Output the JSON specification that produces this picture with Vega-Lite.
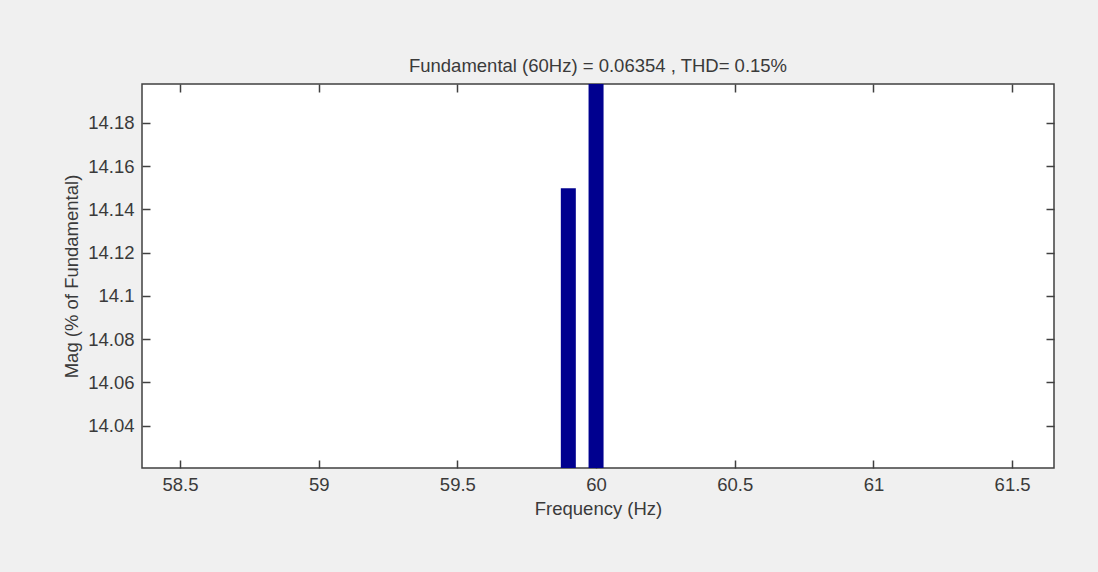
{
  "$schema": "https://vega.github.io/schema/vega-lite/v6.json",
  "autosize": "none",
  "width": 912,
  "height": 384,
  "padding": {"left": 142, "top": 84, "right": 44, "bottom": 104},
  "background": "#f0f0f0",
  "config": {
    "view": {"stroke": "#404040", "strokeWidth": 1.5, "fill": "white"},
    "font": "Liberation Sans",
    "axis": {"labelFont": "Liberation Sans", "titleFont": "Liberation Sans", "labelColor": "#3a3a3a", "titleColor": "#3a3a3a", "labelFontSize": 18.5, "titleFontSize": 18.5, "titleFontWeight": "normal", "grid": false, "domain": false, "tickColor": "#404040", "tickSize": -8, "tickWidth": 1.5}
  },
  "title": {"text": "Fundamental (60Hz) = 0.06354 , THD= 0.15%", "font": "Liberation Sans", "fontSize": 18.5, "fontWeight": "normal", "color": "#3a3a3a", "offset": 1},
  "data": {"values": [
    {"freq": 59.9, "mag": 14.1497},
    {"freq": 60.0, "mag": 14.2}
  ]},
  "resolve": {"axis": {"x": "independent", "y": "independent"}},
  "layer": [
    {
      "mark": {"type": "bar", "width": 15, "color": "#00008f", "clip": true},
      "encoding": {
        "x": {"field": "freq", "type": "quantitative", "scale": {"domain": [58.363, 61.651], "nice": false, "zero": false, "padding": 0},
          "axis": {"title": "Frequency (Hz)", "format": "~g", "values": [58.5, 59, 59.5, 60, 60.5, 61, 61.5], "labelPadding": 15, "titlePadding": 6, "labelFlush": false}},
        "y": {"field": "mag", "type": "quantitative", "scale": {"domain": [14.0205, 14.1979], "nice": false, "zero": false, "padding": 0},
          "axis": {"title": "Mag (% of Fundamental)", "format": "~g", "values": [14.04, 14.06, 14.08, 14.1, 14.12, 14.14, 14.16, 14.18], "labelPadding": 16, "titlePadding": 6, "labelFlush": false}}
      }
    },
    {
      "mark": {"type": "point", "opacity": 0},
      "encoding": {
        "x": {"field": "freq", "type": "quantitative",
          "axis": {"orient": "top", "labels": false, "title": null, "values": [58.5, 59, 59.5, 60, 60.5, 61, 61.5]}},
        "y": {"field": "mag", "type": "quantitative",
          "axis": {"orient": "right", "labels": false, "title": null, "values": [14.04, 14.06, 14.08, 14.1, 14.12, 14.14, 14.16, 14.18]}}
      }
    }
  ]
}
